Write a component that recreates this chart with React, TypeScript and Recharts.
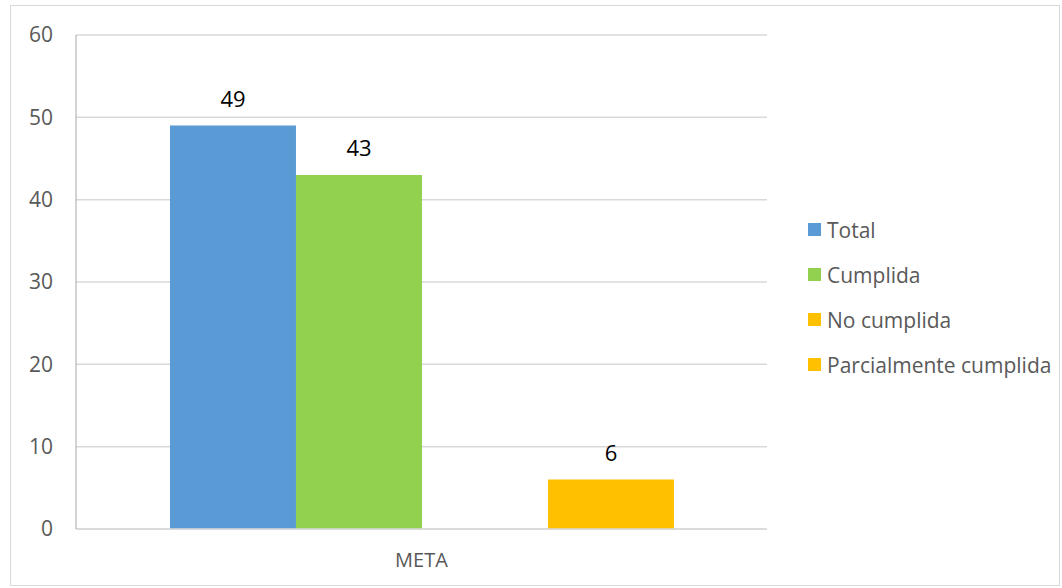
import React from "react";
import { BarChart, Bar, XAxis, YAxis, CartesianGrid, Legend, LabelList } from "recharts";

const categories = ["META"];
const totalValues = [49];
const cumplidaValues = [43];
const noCumplidaValues = [0];
const parcialValues = [6];
const yTicks = [0, 10, 20, 30, 40, 50, 60];

const SERIES = [
  { key: "total", label: "Total", color: "#5B9BD5" },
  { key: "cumplida", label: "Cumplida", color: "#92D050" },
  { key: "noCumplida", label: "No cumplida", color: "#FFC000" },
  { key: "parcial", label: "Parcialmente cumplida", color: "#FFC000" },
];

const data = categories.map((name, i) => ({
  name,
  total: totalValues[i],
  cumplida: cumplidaValues[i],
  noCumplida: noCumplidaValues[i],
  parcial: parcialValues[i],
}));

const FONT = "'Open Sans', sans-serif";

function LegendBox() {
  return (
    <div style={{ fontFamily: FONT, fontSize: 21, color: "#595959" }}>
      {SERIES.map((s) => (
        <div key={s.key} style={{ display: "flex", alignItems: "center", height: 45 }}>
          <span style={{ width: 13, height: 13, background: s.color, marginRight: 6 }} />
          <span>{s.label}</span>
        </div>
      ))}
    </div>
  );
}

export default function App() {
  return (
    <div
      style={{
        position: "absolute",
        left: 10,
        top: 5,
        width: 1050,
        height: 581,
        border: "1px solid #d9d9d9",
        boxSizing: "border-box",
        background: "#fff",
      }}
    >
      <BarChart
        width={1050}
        height={581}
        data={data}
        margin={{ top: 29, right: 294, bottom: 28, left: 19 }}
        barCategoryGap="13.6%"
        barGap={0}
      >
        <CartesianGrid vertical={false} stroke="#d9d9d9" strokeWidth={1.5} />
        <XAxis
          dataKey="name"
          axisLine={{ stroke: "#d9d9d9", strokeWidth: 1.5 }}
          tickLine={false}
          tickSize={0}
          tickMargin={24}
          tick={{ fill: "#595959", fontSize: 20, fontFamily: FONT }}
        />
        <YAxis
          width={46}
          domain={[0, 60]}
          ticks={yTicks}
          axisLine={{ stroke: "#a6a6a6" }}
          tickLine={false}
          tickSize={0}
          tickMargin={23}
          tick={{ fill: "#595959", fontSize: 21, fontFamily: FONT }}
        />
        <Legend
          layout="horizontal"
          verticalAlign="middle"
          wrapperStyle={{ left: 797, top: 201, width: 255 }}
          content={() => <LegendBox />}
        />
        {SERIES.map((s) => (
          <Bar key={s.key} dataKey={s.key} fill={s.color} isAnimationActive={false}>
            <LabelList
              dataKey={s.key}
              position="top"
              offset={19}
              fill="#000"
              fontSize={22}
              fontFamily={FONT}
              formatter={(v: any) => (v ? v : "")}
            />
          </Bar>
        ))}
      </BarChart>
    </div>
  );
}
